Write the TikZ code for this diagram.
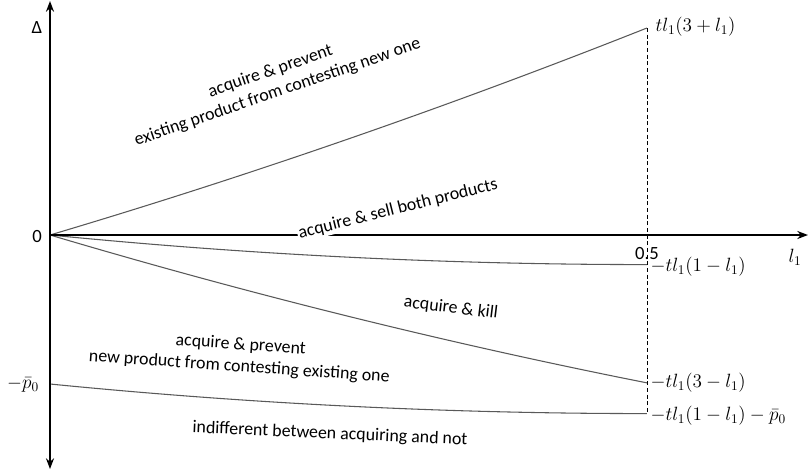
\documentclass[tikz,border=0pt]{standalone}
\usepackage{fontspec}
\setmainfont{Carlito}
\usetikzlibrary{arrows.meta}
\begin{document}
\begin{tikzpicture}[x=0.75pt,y=-0.75pt,
  axis/.style={line width=1.5pt,-{Stealth[length=8pt,width=6pt]}},
  curve/.style={line width=0.8pt,black!65},
  guide/.style={line width=0.6pt,dash pattern=on 3pt off 2pt},
  lab/.style={font=\fontsize{14}{16.5}\selectfont,inner sep=1pt},
  mlab/.style={font=\fontsize{14}{16.5}\selectfont,inner sep=1pt,anchor=west},
  region/.style={font=\fontsize{13.4}{16.5}\selectfont,align=center,inner sep=1pt}]
\useasboundingbox (0,0) rectangle (809,472);
\coordinate (O) at (50,235);
\coordinate (ytop) at (50,1);
\coordinate (ybot) at (50,469);
\coordinate (xend) at (808,235);
\coordinate (dtop) at (647,28);
\coordinate (dbot) at (647,414);
% curves
\draw[curve] plot[domain=0:0.5,samples=40] ({50+1194*\x},{235-118.3*\x*(3+\x)});
\draw[curve] plot[domain=0:0.5,samples=40] ({50+1194*\x},{235+118.3*\x*(1-\x)});
\draw[curve] plot[domain=0:0.5,samples=40] ({50+1194*\x},{235+118.3*\x*(3-\x)});
\draw[curve] plot[domain=0:0.5,samples=40] ({50+1194*\x},{384+118.3*\x*(1-\x)});
% axes
\draw[axis] (O) -- (ytop);
\draw[axis] (O) -- (ybot);
\draw[axis] (O) -- (xend);
\draw[guide] (dtop) -- (dbot);
% axis labels
\node[lab] (delta) at (37,28) {Δ};
\node[lab] (zero) at (37,236) {0};
\node[lab] (p0) at (23,385) {$-\bar{p}_0$};
\node[lab] (half) at (647,254) {0.5};
\node[lab] (l1) at (795,257) {$l_1$};
\node[mlab] (e1) at (654,27) {$tl_1(3+l_1)$};
\node[mlab] (e2) at (649,267) {$-tl_1(1-l_1)$};
\node[mlab] (e3) at (649,383) {$-tl_1(3-l_1)$};
\node[mlab] (e4) at (649,416) {$-tl_1(1-l_1)-\bar{p}_0$};
% region labels
\node[region,rotate=19] (r1) at (274,82) {acquire \& prevent\\existing product from contesting new one};
\node[region,rotate=14,fill=white] (r2) at (398,209) {acquire \& sell both products};
\node[region,rotate=-7] (r3) at (451,308) {acquire \& kill};
\node[region,rotate=-4] (r4) at (240,356) {acquire \& prevent\\new product from contesting existing one};
\node[region,rotate=-2.5] (r5) at (330,434) {indifferent between acquiring and not};
\end{tikzpicture}
\end{document}
